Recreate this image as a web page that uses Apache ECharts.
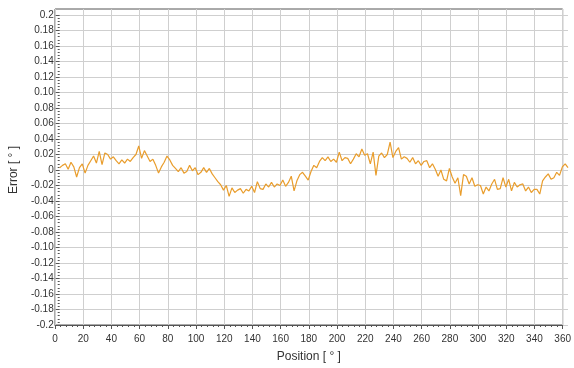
<!DOCTYPE html>
<html>
<head>
<meta charset="utf-8">
<style>
  html, body { margin: 0; padding: 0; background: #fff; }
  #chart { width: 574px; height: 368px; }
</style>
<script src="https://cdn.jsdelivr.net/npm/echarts@6/dist/echarts.min.js"></script>
</head>
<body>
<div id="chart"></div>
<script>
// sample spacing along the position axis, degrees
const positionStep = 2;

// error readings, one per step from 0 to 360 deg
const errorValues = [
  0.003, 0.006, 0.008, 0.001, 0.010, 0.004, -0.009, 0.003, 0.008, -0.004,
  0.006, 0.012, 0.018, 0.009, 0.024, 0.007, 0.022, 0.020, 0.014, 0.017,
  0.012, 0.008, 0.013, 0.009, 0.014, 0.011, 0.016, 0.020, 0.031, 0.015,
  0.025, 0.018, 0.011, 0.014, 0.006, -0.004, 0.004, 0.010, 0.018, 0.013,
  0.006, 0.002, -0.002, 0.003, -0.004, -0.002, 0.006, -0.001, 0.003, -0.006,
  -0.003, 0.003, -0.003, 0.002, -0.005, -0.010, -0.015, -0.019, -0.026, -0.020,
  -0.034, -0.023, -0.029, -0.026, -0.024, -0.030, -0.025, -0.027, -0.021, -0.029,
  -0.015, -0.024, -0.025, -0.018, -0.022, -0.016, -0.022, -0.018, -0.020, -0.013,
  -0.021, -0.016, -0.008, -0.027, -0.014, -0.006, -0.003, -0.008, -0.013, -0.002,
  0.006, 0.003, 0.011, 0.016, 0.012, 0.017, 0.011, 0.014, 0.010, 0.023,
  0.012, 0.016, 0.015, 0.008, 0.014, 0.021, 0.017, 0.027, 0.019, 0.021,
  0.008, 0.023, -0.007, 0.018, 0.022, 0.016, 0.020, 0.036, 0.016, 0.024,
  0.029, 0.014, 0.017, 0.015, 0.010, 0.016, 0.008, 0.012, 0.006, 0.011,
  0.012, 0.003, 0.008, 0.001, -0.008, 0.000, -0.012, -0.014, 0.002, -0.009,
  -0.017, -0.010, -0.033, -0.006, -0.008, -0.018, -0.010, -0.021, -0.019, -0.020,
  -0.031, -0.022, -0.027, -0.018, -0.012, -0.025, -0.024, -0.010, -0.022, -0.012,
  -0.027, -0.016, -0.022, -0.019, -0.018, -0.027, -0.022, -0.029, -0.025, -0.025,
  -0.031, -0.014, -0.009, -0.005, -0.012, -0.010, -0.003, -0.007, 0.004, 0.008,
  0.003
];

// y tick labels, bottom to top, as printed on the original
const yTickLabels = [
  "-0.2", "-0.18", "-0.16", "-0.14", "-0.12", "-0.10", "-0.08", "-0.06", "-0.04", "-0.02",
  "0",
  "0.02", "0.04", "0.06", "0.08", "0.10", "0.12", "0.14", "0.16", "0.18", "0.2"
];

const chart = echarts.init(document.getElementById("chart"));

const axisText = { color: "#333", fontFamily: "Liberation Sans", fontSize: 10 };
const nameText = { color: "#333", fontFamily: "Liberation Sans", fontSize: 12 };

// outer grid is the plot frame (a little beyond +-0.2), inner grid spans exactly +-0.2
const option = {
  backgroundColor: "#fff",
  animation: false,
  grid: [
    { left: 55, right: 6, top: 9, bottom: 34, show: true, borderColor: "#555", borderWidth: 1 },
    { left: 55, right: 6, top: 15, bottom: 43 },
  ],
  xAxis: [
    {
      gridIndex: 0,
      type: "value",
      min: 0,
      max: 360,
      interval: 20,
      name: "Position [ ° ]",
      nameLocation: "middle",
      nameGap: 26,
      nameTextStyle: nameText,
      axisLine: { onZero: false, lineStyle: { color: "#555" } },
      axisTick: { length: 4, lineStyle: { color: "#555" } },
      minorTick: { show: true, splitNumber: 5, length: 2, lineStyle: { color: "#555" } },
      axisLabel: { ...axisText, margin: 9 },
      splitLine: { show: true, lineStyle: { color: "#cfcfcf" } },
    },
    {
      gridIndex: 1,
      type: "value",
      min: 0,
      max: 360,
      show: false,
    },
  ],
  yAxis: [
    {
      gridIndex: 0,
      type: "value",
      min: 0,
      max: 1,
      show: false,
    },
    {
      gridIndex: 1,
      type: "value",
      min: -0.2,
      max: 0.2,
      interval: 0.02,
      name: "Error [ ° ]",
      nameLocation: "middle",
      nameGap: 37,
      nameTextStyle: nameText,
      axisLine: { show: false },
      axisTick: { show: true, length: 4, lineStyle: { color: "#555" } },
      minorTick: { show: true, splitNumber: 5, length: 2, lineStyle: { color: "#555" } },
      axisLabel: {
        ...axisText,
        margin: 6,
        formatter: (v) => yTickLabels[Math.round((v + 0.2) / 0.02)],
      },
      splitLine: { show: true, lineStyle: { color: "#cfcfcf" } },
    },
  ],
  series: [
    {
      type: "line",
      xAxisIndex: 1,
      yAxisIndex: 1,
      showSymbol: false,
      lineStyle: { color: "#e99d2c", width: 1.2 },
      data: errorValues.map((v, i) => [i * positionStep, v]),
    },
  ],
};

chart.setOption(option);
</script>
</body>
</html>
